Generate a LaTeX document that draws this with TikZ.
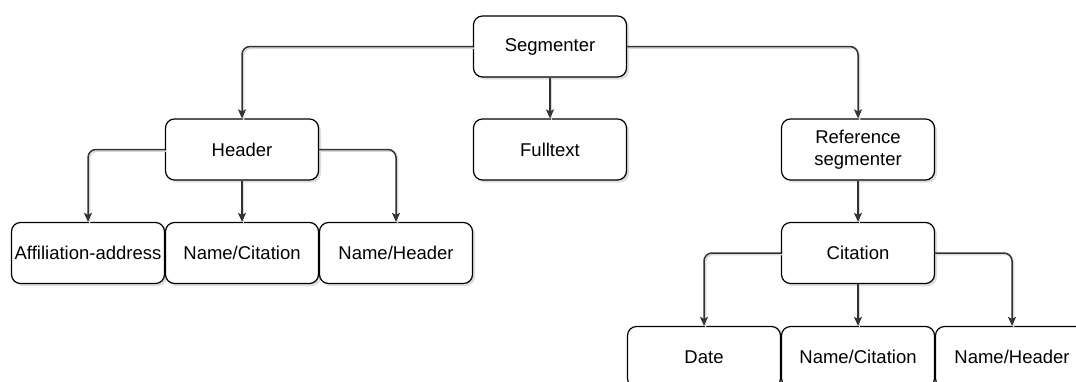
\documentclass[tikz,border=0pt]{standalone}
\usepackage{fontspec}
\setmainfont{Liberation Sans}
\usetikzlibrary{shadows,arrows.meta}
\begin{document}
\begin{tikzpicture}[x=1pt,y=-1pt,
 box/.style={draw=black, line width=1.2pt, rounded corners=9pt, fill=white,
   minimum width=153pt, minimum height=61pt, align=center, inner sep=0pt,
   font=\fontsize{18.5}{22}\selectfont,
   drop shadow={shadow xshift=2.5pt, shadow yshift=-2.5pt, fill=black!25}},
 conn/.style={draw=black!80, line width=1.5pt, rounded corners=8pt,
   -{Stealth[length=9pt,width=8pt,inset=2pt]},
   preaction={draw=black!15, line width=1.5pt, -, transform canvas={shift={(1.5pt,-1.5pt)}}}}
]
\clip (0,0) rectangle (1076,381);
\fill[white] (0,0) rectangle (1076,381);
\node[box] (seg)  at (550,46.5)  {Segmenter};
\node[box] (hdr)  at (242,149.5) {Header};
\node[box] (full) at (550,149.5) {Fulltext};
\node[box] (ref)  at (858,149.5) {Reference\\segmenter};
\node[box] (aff)  at (88,253)    {Affiliation-address};
\node[box] (nca)  at (242,253)   {Name/Citation};
\node[box] (nha)  at (396,253)   {Name/Header};
\node[box] (cit)  at (858,253)   {Citation};
\node[box] (date) at (704,357)   {Date};
\node[box] (ncb)  at (858,357)   {Name/Citation};
\node[box] (nhb)  at (1012,357)  {Name/Header};
\draw[conn] (seg.west) -| (hdr.north);
\draw[conn] (seg.east) -| (ref.north);
\draw[conn] (seg.south) -- (full.north);
\draw[conn] (hdr.west) -| (aff.north);
\draw[conn] (hdr.south) -- (nca.north);
\draw[conn] (hdr.east) -| (nha.north);
\draw[conn] (ref.south) -- (cit.north);
\draw[conn] (cit.west) -| (date.north);
\draw[conn] (cit.south) -- (ncb.north);
\draw[conn] (cit.east) -| (nhb.north);
\end{tikzpicture}
\end{document}
